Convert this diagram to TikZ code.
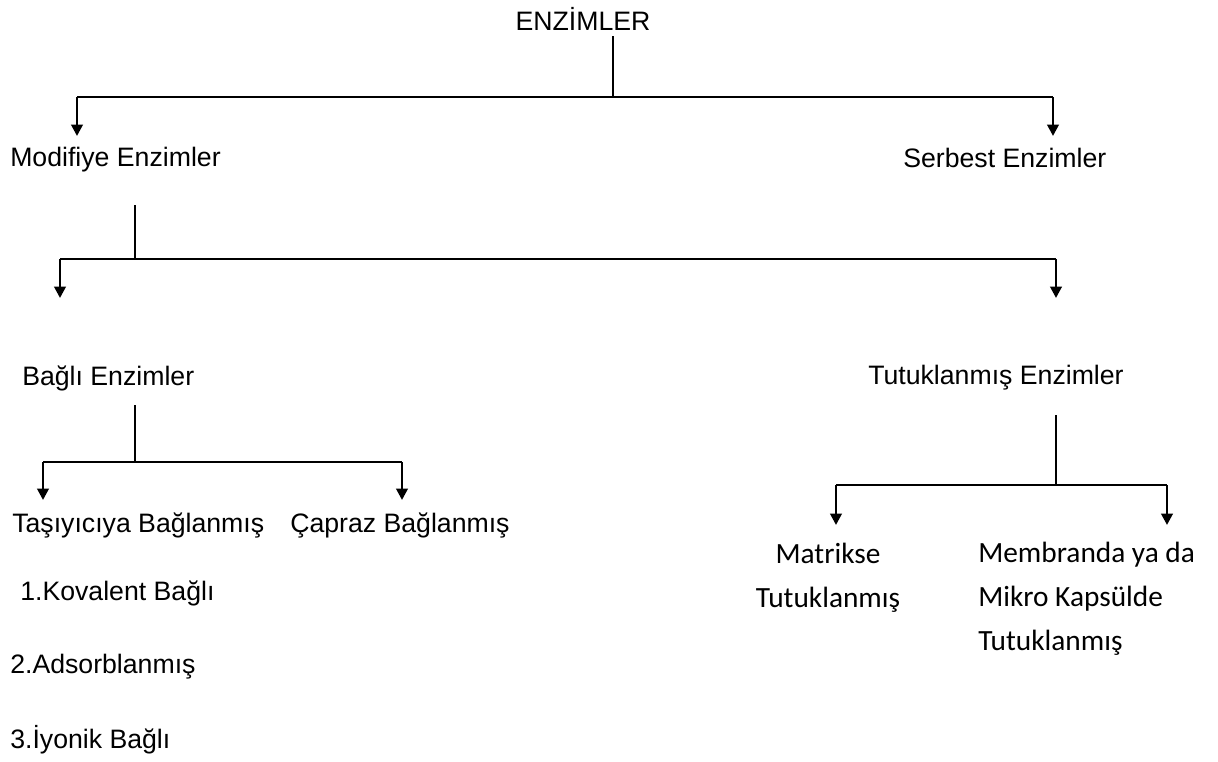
\documentclass[tikz,border=0pt]{standalone}
\usepackage{fontspec}
\setmainfont{Liberation Sans}
\newfontfamily\calfont{Carlito}
\usetikzlibrary{arrows.meta,positioning}
\tikzset{
  lbl/.style={font=\fontsize{20}{24}\selectfont, inner sep=0pt, anchor=west},
  callbl/.style={font=\calfont\fontsize{22}{33}\selectfont, inner sep=0pt},
  stem/.style={line width=1pt},
  bar/.style={line width=1.5pt},
  drop/.style={-{Triangle[length=8.5pt,width=8.5pt]}, line width=2pt},
}

\begin{document}
\begin{tikzpicture}[x=0.75pt,y=-0.75pt]
  \useasboundingbox (0,0) rectangle (1218,761);

  % nodes
  \node[lbl,anchor=center] (enz) at (583,19) {ENZİMLER};
  \node[lbl] (mod) at (10,160) {Modifiye Enzimler};
  \node[lbl] (ser) at (903,158) {Serbest Enzimler};
  \node[lbl] (bag) at (22,378) {Bağlı Enzimler};
  \node[lbl] (tut) at (868,378) {Tutuklanmış Enzimler};
  \node[lbl] (tas) at (12,525) {Taşıyıcıya Bağlanmış};
  \node[lbl] (cap) at (290,525) {Çapraz Bağlanmış};
  \node[lbl] (kov) at (20,593) {1.Kovalent Bağlı};
  \node[lbl] (ads) at (10,667) {2.Adsorblanmış};
  \node[lbl] (iyo) at (10,740) {3.İyonik Bağlı};
  \node[callbl,align=center] (mat) at (828,578) {Matrikse\\Tutuklanmış};
  \node[callbl,align=left,anchor=west] (mem) at (978,599)
    {Membranda ya da\\Mikro Kapsülde\\Tutuklanmış};

  % junctions
  \coordinate (enz-foot) at (613,36);
  \coordinate (j1) at (613,97);
  \coordinate (j1-l) at (77,97);
  \coordinate (j1-r) at (1053,97);
  \coordinate (mod-in) at (77,136);
  \coordinate (ser-in) at (1053,136);

  \coordinate (mod-foot) at (135,205);
  \coordinate (j2) at (135,259);
  \coordinate (j2-l) at (60,259);
  \coordinate (j2-r) at (1056,259);
  \coordinate (bag-in) at (60,298);
  \coordinate (tut-in) at (1056,298);

  \coordinate (bag-foot) at (135,405);
  \coordinate (j3) at (135,462);
  \coordinate (j3-l) at (43,462);
  \coordinate (j3-r) at (402,462);
  \coordinate (tas-in) at (43,500);
  \coordinate (cap-in) at (402,500);

  \coordinate (tut-foot) at (1056,415);
  \coordinate (j4) at (1056,485);
  \coordinate (j4-l) at (836,485);
  \coordinate (j4-r) at (1167,485);
  \coordinate (mat-in) at (836,525);
  \coordinate (mem-in) at (1167,525);

  % connectors
  \draw[stem] (enz-foot) -- (j1);
  \draw[bar] (j1-l) -- (j1-r);
  \draw[drop] (j1-l) -- (mod-in);
  \draw[drop] (j1-r) -- (ser-in);

  \draw[stem] (mod-foot) -- (j2);
  \draw[bar] (j2-l) -- (j2-r);
  \draw[drop] (j2-l) -- (bag-in);
  \draw[drop] (j2-r) -- (tut-in);

  \draw[stem] (bag-foot) -- (j3);
  \draw[bar] (j3-l) -- (j3-r);
  \draw[drop] (j3-l) -- (tas-in);
  \draw[drop] (j3-r) -- (cap-in);

  \draw[stem] (tut-foot) -- (j4);
  \draw[bar] (j4-l) -- (j4-r);
  \draw[drop] (j4-l) -- (mat-in);
  \draw[drop] (j4-r) -- (mem-in);
\end{tikzpicture}
\end{document}
